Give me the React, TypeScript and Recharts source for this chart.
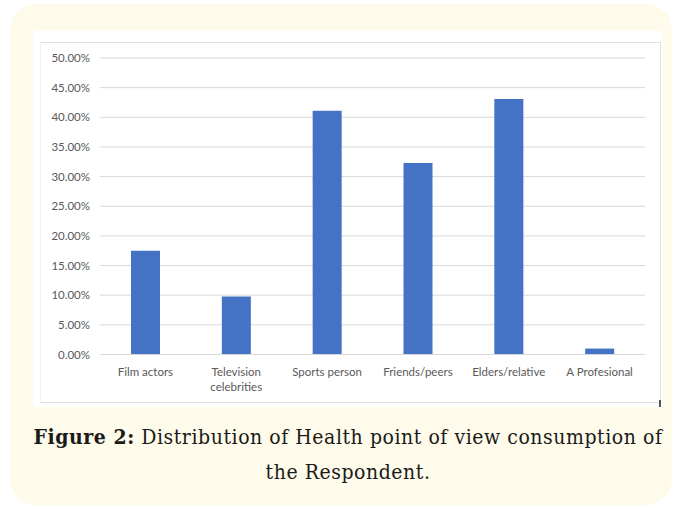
import { BarChart, Bar, XAxis, YAxis, CartesianGrid } from 'recharts';

const categories = ['Film actors', 'Television\ncelebrities', 'Sports person', 'Friends/peers', 'Elders/relative', 'A Profesional'];
const shares = [17.5, 9.8, 41.1, 32.3, 43.1, 1.0];
const yTicks = [0, 5, 10, 15, 20, 25, 30, 35, 40, 45, 50];

const data = categories.map((name, i) => ({ name, value: shares[i] }));

const LABEL_FONT = 'Lato, "Open Sans", sans-serif';

// category label, split on newline
function CatTick({ x, y, payload }: any) {
  const lines = String(payload.value).split('\n');
  return (
    <text x={x} y={y} textAnchor="middle" fontSize={11.5} fill="#595959" fontFamily={LABEL_FONT}>
      {lines.map((l, i) => (
        <tspan key={i} x={x} dy={i === 0 ? 13.5 : 15}>{l}</tspan>
      ))}
    </text>
  );
}

export default function App() {
  return (
    <div style={{ position: 'absolute', left: 0, top: 0, width: 679, height: 510, background: '#fff' }}>
      <div style={{
        position: 'absolute', left: 10, top: 4, width: 662, height: 501,
        background: '#fefbea', borderRadius: 26,
      }} />

      {/* white chart panel */}
      <div style={{ position: 'absolute', left: 33, top: 31, width: 630, height: 376, background: '#fff' }} />
      <div style={{
        position: 'absolute', left: 40, top: 42, width: 619, height: 359,
        border: '1px solid #e0e0e0', borderLeftColor: '#f0f0f0',
      }} />
      <div style={{ position: 'absolute', left: 659, top: 400, width: 2, height: 7, background: '#555' }} />

      <div style={{ position: 'absolute', left: 40, top: 42 }}>
        <BarChart width={620} height={360} data={data} margin={{ top: 16, right: 15, bottom: 7.5, left: 0 }} barSize={29}>
          <CartesianGrid vertical={false} stroke="#d9d9d9" />
          <XAxis
            dataKey="name"
            height={40}
            tick={<CatTick />}
            tickLine={false}
            axisLine={{ stroke: '#d9d9d9' }}
            interval={0}
            tickMargin={2}
          />
          <YAxis
            width={60}
            domain={[0, 50]}
            ticks={yTicks}
            tickFormatter={(v: number) => `${v.toFixed(2)}%`}
            tick={{ fontSize: 11.5, fill: '#595959', fontFamily: LABEL_FONT }}
            tickLine={false}
            axisLine={false}
            tickMargin={4}
          />
          <Bar dataKey="value" fill="#4472c4" isAnimationActive={false} />
        </BarChart>
      </div>

      <div style={{
        position: 'absolute', left: 17, top: 419, width: 662, textAlign: 'center',
        fontFamily: '"DejaVu Serif Condensed", "DejaVu Serif", serif', fontStretch: 'condensed',
        fontSize: 21, letterSpacing: 0.55, lineHeight: '35px', color: '#1a1a1a', whiteSpace: 'nowrap',
      }}>
        <b>Figure 2:</b> Distribution of Health point of view consumption of
        <br />
        the Respondent.
      </div>
    </div>
  );
}
